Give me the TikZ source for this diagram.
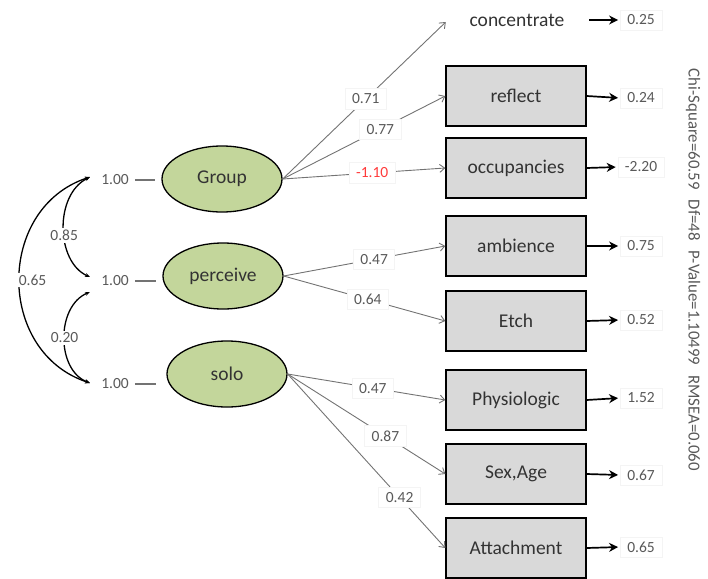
\documentclass[tikz,border=0pt]{standalone}
\usepackage{fontspec}
\setmainfont{Carlito}
\usetikzlibrary{shapes.geometric,arrows.meta}
\definecolor{latgreen}{HTML}{C3D69B}
\definecolor{boxgray}{HTML}{D9D9D9}
\definecolor{numgray}{HTML}{595959}
\definecolor{linegray}{HTML}{737373}
\definecolor{negred}{HTML}{FF3B3B}
\definecolor{faint}{HTML}{F4F4F4}
\begin{document}
\begin{tikzpicture}[x=1pt,y=-1pt,
 latent/.style={ellipse,draw=black,line width=1.3pt,fill=latgreen,minimum width=120pt,minimum height=66pt,inner sep=0pt,font=\fontsize{19.5}{22}\selectfont,text=black!80},
 obs/.style={rectangle,draw=black,line width=1.3pt,fill=boxgray,minimum width=140pt,minimum height=60pt,inner sep=0pt,font=\fontsize{19.5}{22}\selectfont,text=black!80},
 plain/.style={rectangle,minimum width=140pt,minimum height=60pt,inner sep=0pt},
 lbl/.style={fill=white,draw=faint,inner xsep=7pt,inner ysep=5pt,font=\fontsize{15.5}{18}\selectfont,text=numgray},
 load/.style={draw=linegray,line width=0.9pt,-{Straight Barb[length=5pt,width=8pt]}},
 resid/.style={draw=black,line width=1.7pt,-{Stealth[length=9pt,width=9pt]},shorten >=2pt},
 cov/.style={draw=black,line width=1.3pt,{Stealth[length=5pt,width=4pt]}-{Stealth[length=5pt,width=4pt]}},
 stub/.style={draw=linegray,line width=1.1pt},
]
\useasboundingbox (0,0) rectangle (708,578);

% latent variables
\node[latent] (G) at (222,179) {Group};
\node[latent] (P) at (223,276) {perceive};
\node[latent] (S) at (227,374) {solo};

% observed variables
\node[plain] (conc) at (516,22) {};
\node[font=\fontsize{19.5}{22}\selectfont,text=black!80] (conctxt) at (517,20) {concentrate};
\node[obs] (refl) at (516,96) {reflect};
\node[obs] (occ) at (516,168) {occupancies};
\node[obs] (amb) at (516,246) {ambience};
\node[obs] (etch) at (516,321) {Etch};
\node[obs] (phys) at (516,400) {Physiologic};
\node[obs] (sex) at (516,474) {Sex,Age};
\node[obs] (att) at (516,548) {Attachment};

% loadings
\draw[load] (G.east) -- (conc.west) node[lbl,pos=0.51]{0.71};
\draw[load] (G.east) -- (refl.west) node[lbl,pos=0.6]{0.77};
\draw[load] (G.east) -- (occ.west) node[lbl,pos=0.55,text=negred]{-1.10};
\draw[load] (P.east) -- (amb.west) node[lbl,pos=0.56]{0.47};
\draw[load] (P.east) -- (etch.west) node[lbl,pos=0.52]{0.64};
\draw[load] (S.east) -- (phys.west) node[lbl,pos=0.54]{0.47};
\draw[load] (S.east) -- (sex.west) node[lbl,pos=0.62]{0.87};
\draw[load] (S.east) -- (att.west) node[lbl,pos=0.71]{0.42};

% residuals
\node[lbl] (e0) at (641,20) {0.25};
\node[lbl] (e1) at (641,98) {0.24};
\node[lbl] (e2) at (641,167) {-2.20};
\node[lbl] (e3) at (641,246) {0.75};
\node[lbl] (e4) at (641,320) {0.52};
\node[lbl] (e5) at (641,398) {1.52};
\node[lbl] (e6) at (641,475) {0.67};
\node[lbl] (e7) at (641,547) {0.65};
\coordinate (c0) at ([xshift=3pt]conc.east);
\draw[resid] (c0 |- e0.west) -- (e0.west);
\draw[resid] (refl.east) -- (e1.west);
\draw[resid] (occ.east) -- (e2.west);
\draw[resid] (amb.east) -- (e3.west);
\draw[resid] (etch.east) -- (e4.west);
\draw[resid] (phys.east) -- (e5.west);
\draw[resid] (sex.east) -- (e6.west);
\draw[resid] (att.east) -- (e7.west);

% variances of latents
\node[lbl,draw=none,inner xsep=3pt] (v1) at (115,180) {1.00};
\node[lbl,draw=none,inner xsep=3pt] (v2) at (115,281) {1.00};
\node[lbl,draw=none,inner xsep=3pt] (v3) at (115,384) {1.00};
\draw[stub,shorten <=3pt,shorten >=6pt] (v1.east) -- (v1.east -| G.west);
\draw[stub,shorten <=3pt,shorten >=6pt] (v2.east) -- (v2.east -| P.west);
\draw[stub,shorten <=3pt,shorten >=10pt] (v3.east) -- (v3.east -| S.west);

% covariances
\coordinate (t1) at (90,177);
\coordinate (t2a) at (90,277);
\coordinate (t2b) at (90,292);
\coordinate (t3) at (90,383);
\draw[cov] (t1) .. controls (-4,208) and (-4,352) .. (t3) node[lbl,draw=none,pos=0.5,xshift=13pt,inner sep=2pt]{0.65};
\draw[cov] (t1) .. controls (54,195) and (56,262) .. (t2a) node[lbl,draw=none,pos=0.56,inner sep=2pt]{0.85};
\draw[cov] (t2b) .. controls (56,306) and (56,370) .. (t3) node[lbl,draw=none,pos=0.5,inner sep=2pt]{0.20};

% fit statistics
\node[rotate=-90,font=\fontsize{16.8}{20}\selectfont,text=numgray] (fit) at (693,270)
 {Chi-Square=60.59\hspace{10pt}Df=48\hspace{10pt}P-Value=1.10499\hspace{10pt}RMSEA=0.060};
\end{tikzpicture}
\end{document}
